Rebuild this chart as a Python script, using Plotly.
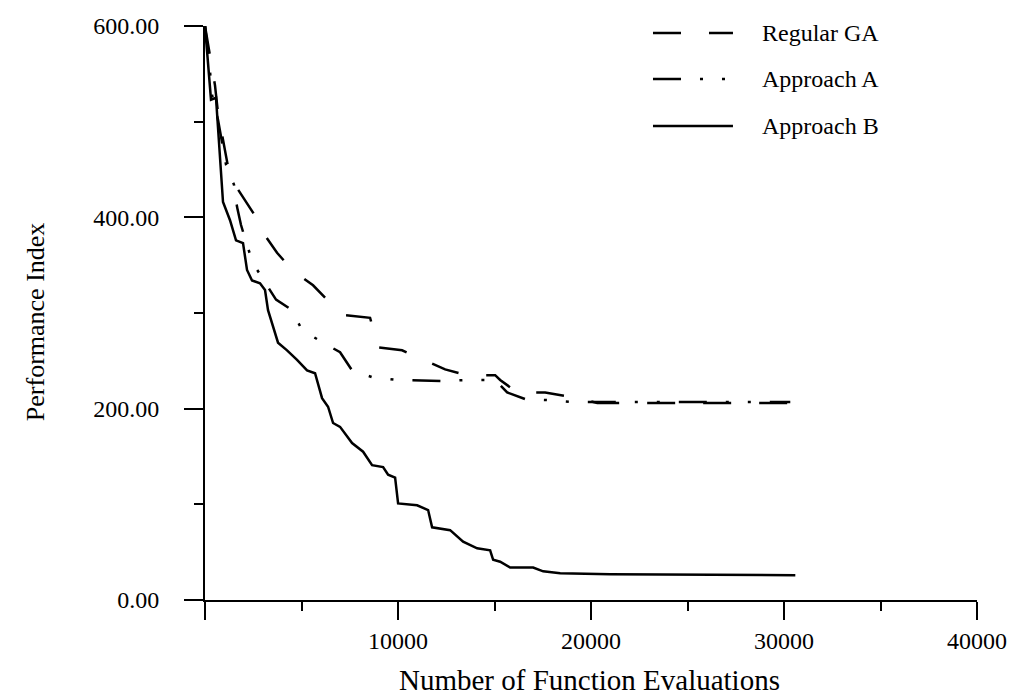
import plotly.graph_objects as go

# Convergence histories (best performance index vs. function evaluations)
ga_evals = [0, 311, 518, 674, 933, 1192, 1711, 2488, 3007, 3732, 4510, 5599, 6324,
            7154, 8554, 8968, 10212, 11301, 12442, 13582, 15034, 15293, 16174, 17625,
            19025, 20321, 30300]
ga_perf = [600, 564, 538, 509, 481, 453, 429, 405, 384, 363, 345, 329, 314,
           298, 295, 264, 261, 251, 241, 235, 235, 230, 217, 217,
           212, 206, 206]

a_evals = [0, 207, 363, 674, 1089, 1503, 1659, 1866, 2177, 2488, 3110, 3681, 4510,
           5028, 6117, 6998, 7620, 8657, 9953, 12286, 13582, 15034, 15656, 16589,
           17729, 18921, 30326]
a_perf = [600, 565, 528, 502, 455, 434, 411, 392, 371, 352, 332, 314, 303,
          282, 269, 259, 240, 233, 230, 229, 230, 230, 217, 210,
          209, 207, 207]

b_evals = [0, 150, 311, 570, 933, 1296, 1607, 1970, 2177, 2436, 2851, 3110, 3266,
           3784, 4251, 4769, 5288, 5702, 6065, 6376, 6636, 6998, 7620, 8191, 8657,
           9228, 9487, 9850, 10005, 10990, 11560, 11768, 12701, 13374, 14100, 14774,
           14930, 15293, 15811, 17003, 17522, 18403, 20995, 30586]
b_perf = [600, 560, 523, 525, 416, 397, 376, 373, 345, 334, 331, 324, 303,
          269, 261, 251, 240, 237, 211, 202, 185, 181, 164, 155, 141,
          139, 131, 128, 101, 99, 94, 76, 73, 61, 54, 52,
          42, 40, 34, 34, 30, 28, 27, 26]

series_names = ["Regular GA", "Approach A", "Approach B"]
series_dash = ["28px,28px", "28px,19px,3px,19px,3px,19px", "solid"]

x_ticks = [0, 10000, 20000, 30000, 40000]
x_labels = ["", "10000", "20000", "30000", "40000"]
x_minor = [5000, 15000, 25000, 35000]
y_ticks = [0, 200, 400, 600]
y_labels = ["0.00", "200.00", "400.00", "600.00"]
y_minor = [100, 300, 500]

FONT = "Liberation Serif"

fig = go.Figure()
for name, xs, ys, dash in zip(series_names,
                              [ga_evals, a_evals, b_evals],
                              [ga_perf, a_perf, b_perf],
                              series_dash):
    fig.add_trace(go.Scatter(x=xs, y=ys, mode="lines", name=name,
                             line=dict(color="black", width=2.5, dash=dash),
                             showlegend=False))

# Legend drawn as long line samples with labels on the right
legend_rows = [0.9878, 0.9077, 0.8258]
for name, dash, yrow in zip(series_names, series_dash, legend_rows):
    fig.add_shape(type="line", xref="paper", yref="paper",
                  x0=0.5803, x1=0.6839, y0=yrow, y1=yrow,
                  line=dict(color="black", width=2.5, dash=dash))
    fig.add_annotation(text=name, xref="paper", yref="paper",
                       x=0.7190, y=yrow, xanchor="left", yanchor="middle",
                       showarrow=False, font=dict(family=FONT, size=24, color="black"))

# Axis titles
fig.add_annotation(text="Number of Function Evaluations", xref="paper", yref="paper",
                   x=0.4987, y=-0.139, xanchor="center", yanchor="middle",
                   showarrow=False, font=dict(family=FONT, size=29, color="black"))
fig.add_annotation(text="Performance Index", xref="paper", yref="paper",
                   x=-0.2202, y=0.484, xanchor="center", yanchor="middle",
                   textangle=-90, showarrow=False,
                   font=dict(family=FONT, size=26, color="black"))

fig.update_xaxes(range=[0, 40000], showgrid=False, zeroline=False,
                 showline=True, linecolor="black", linewidth=2,
                 ticks="outside", ticklen=18, tickwidth=2, tickcolor="black",
                 tickvals=x_ticks, ticktext=x_labels,
                 minor=dict(tickvals=x_minor, ticks="outside", ticklen=9,
                            tickwidth=2, tickcolor="black", showgrid=False),
                 tickfont=dict(family=FONT, size=24, color="black"))
fig.update_yaxes(range=[0, 600], showgrid=False, zeroline=False,
                 showline=True, linecolor="black", linewidth=2,
                 ticks="outside", ticklen=19, tickwidth=2, tickcolor="black",
                 tickvals=y_ticks, ticktext=y_labels,
                 minor=dict(tickvals=y_minor, ticks="outside", ticklen=9,
                            tickwidth=2, tickcolor="black", showgrid=False),
                 ticklabelstandoff=20,
                 tickfont=dict(family=FONT, size=24, color="black"))

fig.update_layout(width=1018, height=698,
                  margin=dict(l=205, r=41, t=26, b=98, autoexpand=False),
                  paper_bgcolor="white", plot_bgcolor="white")

fig.write_html("out.html")
